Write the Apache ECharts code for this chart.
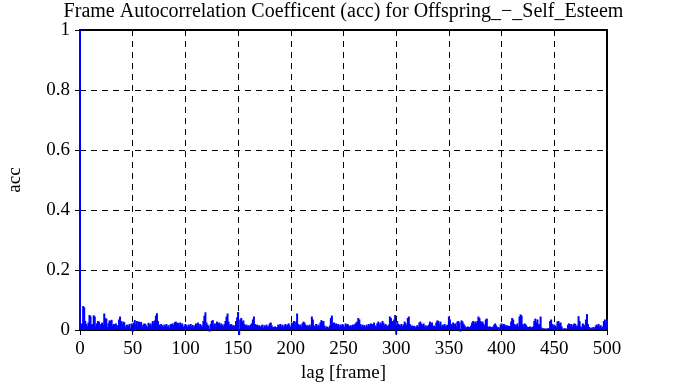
<!DOCTYPE html>
<html><head><meta charset="utf-8">
<script src="https://cdn.jsdelivr.net/npm/echarts@6/dist/echarts.min.js"></script>
<style>html,body{margin:0;padding:0;background:#fff}#c{width:687px;height:385px}</style>
</head><body><div id="c"></div>
<script>
const titleText = "Frame Autocorrelation Coefficent (acc) for Offspring_\u2212_Self_Esteem";
const xTicks = [0,50,100,150,200,250,300,350,400,450,500];
const yTicks = [0,0.2,0.4,0.6,0.8,1];
const accValues = [
1.0, 0.015, 0.022, 0.080, 0.076, 0.03, 0.02, 0.012, 0.025, 0.05,
0.046, 0.018, 0.02, 0.049, 0.045, 0.012, 0.022, 0.03, 0.028, 0.015,
0.02, 0.025, 0.018, 0.055, 0.04, 0.038, 0.01, 0.022, 0.032, 0.03,
0.034, 0.015, 0.02, 0.018, 0.022, 0.016, 0.012, 0.035, 0.045, 0.03,
0.02, 0.028, 0.026, 0.01, 0.016, 0.018, 0.014, 0.02, 0.008, 0.022,
-0.006, 0.025, 0.033, 0.02, 0.03, 0.015, 0.028, 0.022, 0.027, 0.012,
0.018, 0.022, 0.02, 0.015, 0.01, 0.024, 0.018, 0.022, 0.014, 0.03,
0.025, 0.032, 0.048, 0.056, 0.03, 0.018, 0.012, 0.02, 0.016, 0.01,
0.018, 0.014, 0.02, 0.012, 0.016, 0.008, 0.02, 0.018, 0.022, 0.015,
0.026, 0.028, 0.02, 0.024, 0.012, 0.025, 0.018, 0.022, 0.01, 0.015,
0.02, 0.016, 0.01, 0.018, 0.014, 0.02, 0.012, 0.017, 0.008, 0.015,
0.022, 0.018, 0.025, 0.012, 0.02, 0.016, 0.01, 0.03, 0.048, 0.059,
0.025, 0.018, 0.014, -0.005, 0.02, 0.03, 0.033, 0.015, 0.022, 0.01,
0.028, 0.02, 0.025, 0.015, 0.022, 0.018, 0.012, 0.02, 0.03, 0.045,
0.055, 0.028, 0.015, 0.02, 0.018, 0.012, 0.016, 0.01, 0.03, 0.042,
0.06, -0.017, 0.035, 0.04, 0.028, 0.032, 0.02, 0.014, 0.018, 0.012,
0.016, 0.01, 0.018, 0.022, 0.035, 0.045, 0.02, 0.015, 0.018, 0.012,
0.016, 0.01, 0.014, 0.018, 0.008, 0.016, 0.012, 0.018, 0.01, 0.014,
0.022, 0.025, 0.015, 0.008, 0.01, 0.012, 0.006, 0.01, 0.018, 0.015,
0.02, 0.012, 0.018, 0.01, 0.016, 0.02, 0.014, 0.018, 0.022, 0.015,
0.01, 0.025, 0.022, 0.03, 0.018, 0.028, 0.055, 0.02, 0.015, 0.018,
0.012, 0.022, 0.028, 0.025, 0.018, 0.014, 0.016, 0.012, 0.018, 0.01,
0.045, 0.035, 0.015, 0.008, 0.02, 0.01, 0.018, 0.012, 0.025, 0.033,
0.028, 0.03, 0.015, 0.008, 0.012, 0.01, 0.006, 0.015, 0.04, 0.048,
0.02, 0.025, 0.018, 0.022, 0.015, 0.02, 0.012, 0.018, 0.014, 0.02,
0.016, 0.01, 0.022, 0.018, 0.02, 0.015, 0.012, 0.016, 0.01, 0.018,
0.014, 0.02, 0.025, 0.028, 0.04, 0.035, 0.02, 0.012, 0.018, 0.015,
0.016, 0.01, 0.018, 0.012, 0.02, 0.015, 0.022, 0.018, 0.02, 0.025,
0.015, 0.012, 0.022, 0.028, 0.018, 0.025, 0.02, 0.03, 0.024, 0.016,
0.02, 0.015, 0.012, 0.018, 0.045, 0.04, 0.03, 0.022, 0.035, 0.05,
-0.015, 0.03, 0.02, 0.018, 0.015, 0.02, 0.012, 0.018, 0.028, 0.022,
0.015, 0.04, 0.045, 0.02, 0.012, 0.015, 0.01, 0.014, 0.008, 0.012,
0.016, 0.01, 0.025, 0.028, 0.02, 0.018, 0.022, 0.012, 0.016, 0.01,
0.014, 0.018, 0.028, 0.02, 0.025, 0.012, 0.015, 0.01, 0.025, 0.032,
0.03, 0.02, 0.028, 0.012, 0.018, 0.015, 0.02, 0.012, 0.016, 0.018,
0.045, 0.035, 0.02, 0.015, 0.025, 0.018, 0.022, 0.012, 0.028, 0.03,
0.025, -0.005, 0.032, 0.028, 0.02, 0.015, 0.01, 0.008, 0.012, 0.01,
0.006, 0.015, 0.025, 0.03, 0.02, 0.028, 0.022, 0.03, 0.045, 0.04,
0.03, 0.025, 0.028, 0.02, 0.015, 0.035, 0.038, 0.012, 0.008, 0.012,
0.01, 0.006, 0.012, 0.018, 0.022, 0.015, 0.008, 0.01, 0.006, 0.018,
0.022, 0.015, 0.02, 0.018, 0.012, 0.016, 0.01, 0.014, 0.012, 0.028,
0.04, 0.035, 0.02, 0.018, 0.015, 0.022, 0.012, 0.045, 0.052, 0.048,
0.02, 0.015, 0.022, 0.018, 0.012, 0.008, 0.01, 0.012, 0.006, 0.01,
0.012, 0.03, 0.038, 0.025, 0.035, 0.02, 0.018, 0.045, 0.008, 0.004,
0.006, 0.003, 0.005, 0.004, 0.006, 0.005, 0.03, 0.035, 0.02, 0.012,
0.018, 0.015, 0.01, 0.028, 0.03, 0.022, 0.025, 0.012, 0.005, 0.004,
0.006, 0.003, 0.005, 0.018, 0.022, 0.015, 0.02, 0.01, 0.018, 0.022,
0.02, 0.012, 0.015, 0.046, 0.03, 0.012, 0.008, 0.022, 0.018, 0.012,
0.035, 0.053, 0.02, 0.01, 0.004, 0.008, 0.005, 0.01, 0.006, 0.012,
0.018, 0.015, 0.02, 0.012, 0.016, 0.008, 0.012, 0.03, 0.035, 0.025,
0.035
];
const seriesData = accValues.map((v, i) => [i, v]);
const font = "'Liberation Serif','Times New Roman',serif";
const chart = echarts.init(document.getElementById('c'), null, {renderer: 'canvas'});
const gridLine = {show: true, lineStyle: {color: '#000', type: [6, 5], width: 1}};
chart.setOption({
  animation: false,
  backgroundColor: '#fff',
  title: {text: titleText, left: 'center', top: -3,
    textStyle: {fontFamily: font, fontSize: 20, fontWeight: 'normal', color: '#000'}},
  grid: {left: 80, right: 80, top: 30, bottom: 55, outerBoundsMode: 'none', containLabel: false,
    show: true, borderColor: '#000', borderWidth: 2, backgroundColor: 'transparent'},
  xAxis: [{
    type: 'value', min: 0, max: 500, interval: 50,
    name: 'lag [frame]', nameLocation: 'middle', nameGap: 34,
    nameTextStyle: {fontFamily: font, fontSize: 19, color: '#000'},
    axisLine: {show: false},
    axisTick: {show: true, inside: true, length: 5, lineStyle: {color: '#000'}},
    axisLabel: {fontFamily: font, fontSize: 19, color: '#000', margin: 10},
    splitLine: gridLine
  }, {
    type: 'value', min: 0, max: 500, interval: 50, position: 'top',
    axisLine: {show: false}, axisLabel: {show: false}, splitLine: {show: false},
    axisTick: {show: true, inside: true, length: 5, lineStyle: {color: '#000'}}
  }],
  yAxis: [{
    type: 'value', min: 0, max: 1, interval: 0.2,
    name: 'acc', nameLocation: 'middle', nameGap: 55, nameRotate: 90,
    nameTextStyle: {fontFamily: font, fontSize: 19, color: '#000'},
    axisLine: {show: false},
    axisTick: {show: true, inside: true, length: 5, lineStyle: {color: '#000'}},
    axisLabel: {fontFamily: font, fontSize: 19, color: '#000', margin: 10,
      formatter: v => String(Math.round(v * 10) / 10)},
    splitLine: gridLine
  }, {
    type: 'value', min: 0, max: 1, interval: 0.2, position: 'right',
    axisLine: {show: false}, axisLabel: {show: false}, splitLine: {show: false},
    axisTick: {show: true, inside: true, length: 5, lineStyle: {color: '#000'}}
  }],
  series: [{
    type: 'bar', data: seriesData, xAxisIndex: 0, yAxisIndex: 0,
    barWidth: 2, clip: false, itemStyle: {color: '#0000ff'}, silent: true
  }]
});
</script></body></html>
